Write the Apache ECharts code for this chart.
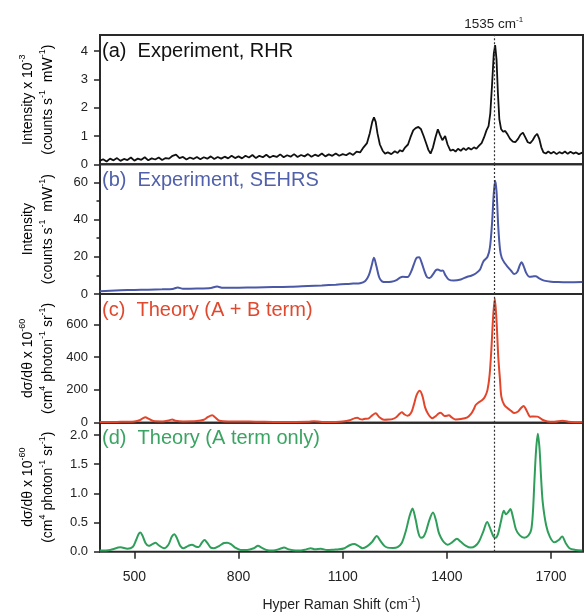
<!DOCTYPE html>
<html>
<head>
<meta charset="utf-8">
<script src="https://cdn.jsdelivr.net/npm/echarts@6/dist/echarts.min.js"></script>
<style>
  html, body { margin: 0; padding: 0; background: #fff; }
  #chart { width: 585px; height: 613px; }
</style>
</head>
<body>
<div id="chart"></div>
<script>
  // spectra, [shift (cm-1), intensity]
  const rhr = [
    [400, 0.12], [410, 0.18], [420, 0.1], [430, 0.2], [440, 0.14], [450, 0.22], [460, 0.12], [470, 0.19],
    [480, 0.15], [490, 0.24], [500, 0.13], [510, 0.2], [520, 0.16], [530, 0.25], [540, 0.14], [550, 0.21],
    [560, 0.17], [570, 0.24], [580, 0.15], [590, 0.22], [600, 0.2], [610, 0.3], [620, 0.34], [630, 0.22],
    [640, 0.26], [650, 0.17], [660, 0.24], [670, 0.19], [680, 0.26], [690, 0.18], [700, 0.25], [710, 0.2],
    [720, 0.28], [730, 0.19], [740, 0.26], [750, 0.2], [760, 0.27], [770, 0.21], [780, 0.3], [790, 0.22],
    [800, 0.28], [810, 0.21], [820, 0.3], [830, 0.24], [840, 0.33], [850, 0.22], [860, 0.3], [870, 0.25],
    [880, 0.34], [890, 0.24], [900, 0.3], [910, 0.26], [920, 0.35], [930, 0.25], [940, 0.32], [950, 0.27],
    [960, 0.36], [970, 0.26], [980, 0.33], [990, 0.28], [1000, 0.36], [1010, 0.27], [1020, 0.34], [1030, 0.29],
    [1040, 0.38], [1050, 0.28], [1060, 0.35], [1070, 0.3], [1080, 0.38], [1090, 0.3], [1100, 0.36], [1110, 0.32],
    [1120, 0.4], [1130, 0.33], [1140, 0.45], [1150, 0.42], [1160, 0.6], [1170, 0.75], [1178, 1.1], [1185, 1.5],
    [1190, 1.66], [1195, 1.5], [1200, 1.1], [1207, 0.7], [1215, 0.48], [1222, 0.38], [1230, 0.42], [1240, 0.36],
    [1250, 0.46], [1258, 0.4], [1265, 0.5], [1272, 0.45], [1280, 0.6], [1288, 0.7], [1295, 0.95], [1303, 1.2],
    [1310, 1.28], [1318, 1.32], [1325, 1.25], [1333, 1.0], [1340, 0.75], [1347, 0.5], [1353, 0.38], [1360, 0.6],
    [1367, 0.95], [1374, 1.24], [1380, 1.05], [1387, 0.85], [1395, 1.0], [1402, 0.7], [1410, 0.48], [1418, 0.52],
    [1425, 0.45], [1432, 0.55], [1440, 0.48], [1448, 0.57], [1455, 0.5], [1462, 0.58], [1470, 0.52], [1478, 0.6],
    [1485, 0.55], [1492, 0.65], [1500, 0.75], [1507, 0.95], [1514, 1.2], [1520, 1.35], [1525, 1.8], [1530, 2.8],
    [1535, 3.9], [1539, 4.21], [1543, 3.7], [1547, 2.5], [1551, 1.6], [1556, 1.25], [1562, 1.15], [1568, 1.18],
    [1575, 1.05], [1582, 0.9], [1590, 0.8], [1597, 0.78], [1605, 0.9], [1612, 1.05], [1619, 1.12], [1626, 0.95],
    [1633, 0.78], [1640, 0.75], [1647, 0.85], [1654, 1.0], [1660, 1.08], [1666, 0.9], [1672, 0.6], [1678, 0.42],
    [1685, 0.38], [1692, 0.45], [1700, 0.38], [1708, 0.44], [1716, 0.36], [1724, 0.43], [1732, 0.38], [1740, 0.45],
    [1748, 0.37], [1756, 0.44], [1764, 0.38], [1772, 0.42], [1780, 0.36], [1790, 0.41]
  ]

  const sehrs = [
    [400, 1.5], [430, 1.8], [460, 2.0], [500, 2.2], [540, 2.3], [580, 2.5], [610, 2.7], [625, 3.5], [640, 2.8],
    [680, 2.9], [720, 3.2], [738, 4.0], [755, 3.3], [800, 3.4], [850, 3.5], [900, 3.7], [950, 3.9], [1000, 4.3],
    [1040, 4.6], [1080, 5.0], [1110, 5.4], [1130, 5.6], [1150, 5.8], [1165, 7], [1175, 10], [1183, 15], [1190, 19.5],
    [1197, 15], [1205, 9], [1213, 6.8], [1225, 6.4], [1240, 6.6], [1255, 7.5], [1265, 8.8], [1273, 9.3], [1287, 9.1],
    [1297, 12], [1305, 16], [1313, 19.5], [1320, 19.7], [1327, 17], [1335, 12.5], [1343, 9], [1350, 8.6], [1360, 10.5],
    [1368, 12.8], [1374, 13.2], [1382, 12.5], [1388, 12.6], [1396, 10], [1405, 7.8], [1420, 7.2], [1440, 7.8],
    [1459, 9.3], [1470, 9.8], [1483, 11], [1495, 13], [1505, 17.5], [1517, 20], [1524, 25], [1530, 38], [1535, 54],
    [1539, 60.8], [1543, 55], [1548, 36], [1553, 24], [1558, 19.5], [1567, 16.5], [1575, 14.6], [1585, 12.5],
    [1594, 10.7], [1603, 12], [1610, 15.5], [1615, 17], [1621, 15], [1628, 11.5], [1637, 9.3], [1647, 9.4],
    [1656, 9.6], [1665, 8.5], [1680, 7.2], [1700, 6.6], [1720, 6.4], [1750, 6.3], [1790, 6.4]
  ]

  const theoryAB = [
    [400, 4], [450, 5], [500, 8], [515, 15], [525, 28], [532, 33], [540, 25], [555, 10], [580, 8], [600, 14],
    [609, 20], [618, 12], [640, 8], [680, 10], [700, 18], [712, 35], [724, 45], [733, 32], [745, 12], [770, 8],
    [800, 8], [850, 6], [900, 5], [950, 5], [1000, 6], [1017, 9], [1040, 5], [1080, 5], [1100, 7], [1120, 15],
    [1135, 28], [1142, 30], [1150, 22], [1157, 20], [1165, 24], [1175, 27], [1185, 45], [1195, 57], [1205, 35],
    [1219, 18], [1232, 19], [1243, 22], [1255, 35], [1264, 55], [1270, 63], [1278, 50], [1287, 42], [1297, 60],
    [1305, 110], [1313, 170], [1322, 195], [1330, 160], [1337, 95], [1346, 53], [1358, 27], [1368, 40], [1376, 56],
    [1382, 61], [1389, 48], [1394, 41], [1400, 42], [1406, 45], [1414, 32], [1425, 20], [1440, 22], [1459, 33],
    [1470, 55], [1478, 85], [1483, 108], [1492, 125], [1502, 138], [1510, 160], [1517, 200], [1523, 290],
    [1528, 443], [1533, 640], [1538, 758], [1543, 620], [1548, 402], [1553, 260], [1557, 158], [1565, 110],
    [1575, 88], [1585, 72], [1594, 59], [1605, 68], [1613, 88], [1621, 102], [1628, 80], [1635, 50], [1640, 37],
    [1650, 38], [1661, 37], [1675, 18], [1690, 8], [1710, 6], [1733, 12], [1750, 6], [1770, 3], [1790, 2]
  ]

  const theoryA = [
    [400, 0.02], [430, 0.03], [460, 0.075], [480, 0.05], [495, 0.08], [505, 0.2], [512, 0.3], [517, 0.33],
    [523, 0.28], [532, 0.15], [541, 0.1], [552, 0.13], [561, 0.155], [570, 0.11], [585, 0.06], [598, 0.12],
    [608, 0.26], [615, 0.3], [622, 0.24], [632, 0.1], [642, 0.06], [655, 0.1], [666, 0.12], [676, 0.09],
    [685, 0.08], [695, 0.16], [702, 0.2], [710, 0.15], [720, 0.07], [729, 0.06], [745, 0.1], [758, 0.15],
    [767, 0.155], [778, 0.13], [790, 0.07], [806, 0.03], [825, 0.03], [844, 0.06], [856, 0.1], [866, 0.07],
    [880, 0.03], [900, 0.02], [920, 0.05], [931, 0.07], [945, 0.04], [965, 0.02], [979, 0.02], [995, 0.04],
    [1008, 0.06], [1020, 0.04], [1037, 0.05], [1055, 0.03], [1075, 0.035], [1089, 0.04], [1105, 0.06],
    [1120, 0.11], [1133, 0.13], [1145, 0.1], [1157, 0.06], [1170, 0.09], [1185, 0.17], [1198, 0.27],
    [1208, 0.19], [1220, 0.1], [1229, 0.07], [1245, 0.065], [1258, 0.08], [1270, 0.15], [1282, 0.36],
    [1292, 0.6], [1301, 0.74], [1310, 0.55], [1318, 0.32], [1325, 0.24], [1333, 0.26], [1340, 0.35],
    [1350, 0.55], [1360, 0.67], [1368, 0.55], [1376, 0.34], [1383, 0.24], [1392, 0.16], [1402, 0.12],
    [1415, 0.16], [1429, 0.22], [1440, 0.17], [1455, 0.1], [1469, 0.07], [1482, 0.1], [1493, 0.18],
    [1505, 0.35], [1516, 0.51], [1526, 0.38], [1534, 0.26], [1540, 0.24], [1547, 0.3], [1555, 0.5],
    [1564, 0.7], [1570, 0.64], [1577, 0.68], [1583, 0.73], [1590, 0.6], [1599, 0.38], [1610, 0.28],
    [1623, 0.24], [1635, 0.28], [1643, 0.38], [1648, 0.7], [1652, 1.2], [1657, 1.75], [1662, 2.02],
    [1667, 1.75], [1671, 1.3], [1676, 0.85], [1686, 0.45], [1697, 0.25], [1710, 0.16], [1722, 0.2],
    [1732, 0.26], [1742, 0.15], [1753, 0.06], [1770, 0.03], [1790, 0.02]
  ]

  const xTicks = [500, 800, 1100, 1400, 1700]
  const yTicksA = [0, 1, 2, 3, 4]
  const yTicksB = [0, 20, 40, 60]
  const yMinorB = [10, 30, 50]
  const yTicksC = [0, 200, 400, 600]
  const yTicksD = [0, 0.5, 1.0, 1.5, 2.0]
  const markShift = 1535

  const FONT = '"Liberation Sans", Arial, Helvetica, sans-serif'
  const INK = '#222'
  const colors = ['#111111', '#4a58a6', '#e3452b', '#2f9e5a']
  const titleColors = ['#111111', '#5160ab', '#e0492e', '#3aa462']

  // panel layout (px)
  const tops = [35, 164.3, 294, 422.7]
  const heights = [129.3, 129.7, 128.7, 129]
  const yMax = [4.57, 69.7, 785, 2.21]

  const chart = echarts.init(document.getElementById('chart'), null, {renderer: 'canvas'})

  const supRich = {
    n: {fontSize: 14, fontFamily: FONT, color: INK, lineHeight: 20},
    s: {fontSize: 9, fontFamily: FONT, color: INK, verticalAlign: 'top'}
  }

  function yAxis(i, ticks, fmt) {
    return {
      type: 'value', gridIndex: i, min: 0, max: yMax[i], position: 'left',
      axisLine: {show: false},
      splitLine: {show: false},
      axisTick: {show: true, customValues: ticks, length: 6, lineStyle: {color: INK, width: 1.5}},
      axisLabel: {
        customValues: ticks, margin: 12, fontSize: 13, fontFamily: FONT, color: INK,
        formatter: fmt || (v => String(v))
      }
    }
  }

  function xAxis(i) {
    const last = i === 3
    return {
      type: 'value', gridIndex: i, min: 401, max: 1792,
      axisLine: {show: false},
      splitLine: {show: false},
      axisTick: {show: last, customValues: xTicks, length: 7, lineStyle: {color: INK, width: 1.5}},
      axisLabel: {
        show: last, customValues: xTicks, margin: 18, fontSize: 14, fontFamily: FONT, color: INK,
        formatter: v => String(v)
      },
      name: last ? '{n|Hyper Raman Shift (cm}{s|-1}{n|)}' : '',
      nameLocation: 'middle',
      nameGap: 43,
      nameTextStyle: {rich: supRich}
    }
  }

  function series(i, data) {
    const s = {
      type: 'line', xAxisIndex: i, yAxisIndex: i, data: data,
      showSymbol: false, symbol: 'none',
      smooth: i === 0 ? false : 0.3,
      lineStyle: {color: colors[i], width: i === 0 ? 1.8 : 2},
      markLine: {
        silent: true, symbol: 'none', animation: false,
        lineStyle: {type: [2, 2], color: '#333', width: 1.2},
        label: {show: false},
        data: [{xAxis: markShift}]
      }
    }
    if (i === 0) {
      s.markLine.label = {
        show: true, position: 'end', distance: 3,
        formatter: '{m|' + markShift + ' cm}{s|-1}',
        rich: {
          m: {fontSize: 13.5, fontFamily: FONT, color: INK, lineHeight: 16},
          s: {fontSize: 8, fontFamily: FONT, color: INK, verticalAlign: 'top'}
        }
      }
    }
    return s
  }

  function title(i, text) {
    return {
      type: 'text', x: 102, y: tops[i] + 16, silent: true,
      style: {
        text: text, fill: titleColors[i], font: '20px ' + FONT,
        align: 'left', verticalAlign: 'middle', textAlign: 'left', textVerticalAlign: 'middle'
      }
    }
  }

  function yName(i, text) {
    return {
      type: 'text', x: 38, y: tops[i] + heights[i] / 2, rotation: Math.PI / 2, silent: true,
      style: {
        text: text, rich: supRich,
        align: 'center', verticalAlign: 'middle', textAlign: 'center', textVerticalAlign: 'middle'
      }
    }
  }

  const grids = tops.map((t, i) => ({
    left: 100, right: 2, top: t, height: heights[i],
    show: true, borderColor: '#2a2a2a', borderWidth: 2, backgroundColor: 'transparent'
  }))

  const minorB = {
    type: 'value', gridIndex: 1, min: 0, max: yMax[1], position: 'left', offset: 0,
    axisLine: {show: false}, splitLine: {show: false}, axisLabel: {show: false},
    axisTick: {show: true, customValues: yMinorB, length: 3.5, lineStyle: {color: INK, width: 1.5}}
  }

  chart.setOption({
    animation: false,
    backgroundColor: '#fff',
    grid: grids,
    xAxis: [xAxis(0), xAxis(1), xAxis(2), xAxis(3)],
    yAxis: [
      yAxis(0, yTicksA),
      yAxis(1, yTicksB),
      yAxis(2, yTicksC),
      yAxis(3, yTicksD, v => v.toFixed(1)),
      minorB
    ],
    series: [
      series(0, rhr),
      series(1, sehrs),
      series(2, theoryAB),
      series(3, theoryA)
    ],
    graphic: [
      title(0, '(a)  Experiment, RHR'),
      title(1, '(b)  Experiment, SEHRS'),
      title(2, '(c)  Theory (A + B term)'),
      title(3, '(d)  Theory (A term only)'),
      yName(0, '{n|Intensity x 10}{s|-3}\n{n|(counts s}{s|-1}{n|  mW}{s|-1}{n|)}'),
      yName(1, '{n|Intensity}\n{n|(counts s}{s|-1}{n|  mW}{s|-1}{n|)}'),
      yName(2, '{n|dσ/dθ x 10}{s|-60}\n{n|(cm}{s|4}{n| photon}{s|-1}{n| sr}{s|-1}{n|)}'),
      yName(3, '{n|dσ/dθ x 10}{s|-60}\n{n|(cm}{s|4}{n| photon}{s|-1}{n| sr}{s|-1}{n|)}')
    ]
  })
</script>
</body>
</html>
